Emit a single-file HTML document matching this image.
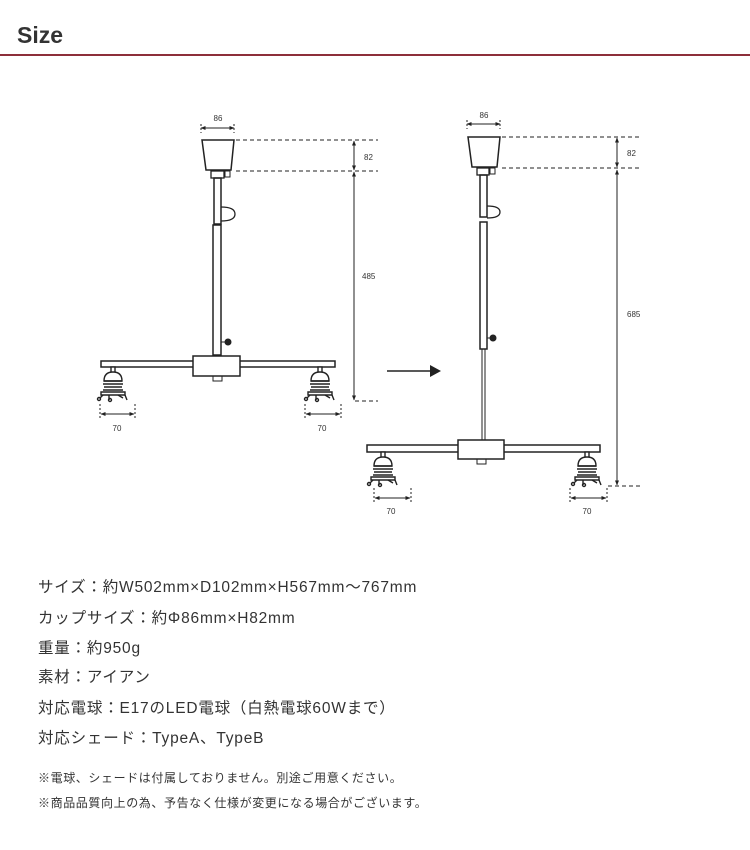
<!DOCTYPE html>
<html><head><meta charset="utf-8"><style>
body{margin:0;background:#fff;width:750px;height:850px;overflow:hidden;font-family:"Liberation Sans","Noto Sans CJK JP",sans-serif;color:#333}
.h{position:absolute;left:17px;top:22px;font-size:23px;font-weight:bold;color:#333}
.line{position:absolute;left:0;top:54px;width:750px;height:2px;background:#8d2f3a}
.t{position:absolute;left:38px;font-size:15.5px;color:#333;white-space:nowrap;letter-spacing:0.8px}
.n{position:absolute;left:38px;font-size:12px;color:#333;white-space:nowrap;letter-spacing:0.6px}
svg{position:absolute;left:0;top:0}
</style></head><body>
<div class="h">Size</div><div class="line"></div>
<svg width="750" height="560" viewBox="0 0 750 560" font-family="Liberation Sans, sans-serif" font-size="8" fill="none" stroke="#222">
<defs>
<marker id="a" viewBox="0 0 10 10" refX="9" refY="5" markerWidth="5" markerHeight="5" orient="auto-start-reverse"><path d="M0,1 L10,5 L0,9z" fill="#222" stroke="none"/></marker>
<g id="s" stroke-width="1.4">
<rect x="-2" y="0" width="4" height="6" fill="#fff"/>
<path d="M-9,14 Q-9,5 0,5 Q9,5 9,14z" fill="#fff"/>
<path d="M-9,14 H9 M-10,17 H10 M-9,20 H9 M-10,23 H10"/>
<path d="M-12,25 H12 V28 H-12z" fill="#fff"/>
<path d="M-10,28 L-13,31 M-4,28 V33 M5,28 L10,31 M12,28 L14,33"/>
<circle cx="-14" cy="32" r="1.5"/><circle cx="-3" cy="33" r="1.5"/>
</g>
</defs>
<!-- LEFT -->
<line x1="201" y1="128" x2="234" y2="128" marker-start="url(#a)" marker-end="url(#a)"/>
<line x1="201" y1="124" x2="201" y2="133" stroke-dasharray="2 2"/><line x1="234" y1="124" x2="234" y2="133" stroke-dasharray="2 2"/>
<text x="218" y="121" fill="#333" stroke="none" text-anchor="middle">86</text>
<path d="M202,140 H234 L231,170 H206z" stroke-width="1.5" fill="#fff"/>
<path d="M236,140 H378 M236,171 H378 M355,401 H378" stroke-dasharray="4 3"/>
<line x1="354" y1="141" x2="354" y2="170" marker-start="url(#a)" marker-end="url(#a)"/>
<line x1="354" y1="172" x2="354" y2="400" marker-start="url(#a)" marker-end="url(#a)"/>
<text x="364" y="160" fill="#333" stroke="none">82</text>
<text x="362" y="279" fill="#333" stroke="none">485</text>
<rect x="211" y="171" width="13" height="7" fill="#fff" stroke-width="1.3"/>
<rect x="225" y="171" width="5" height="6"/>
<rect x="214" y="178" width="7" height="46" stroke-width="1.5"/>
<path d="M221,207 Q235,207 235,214 Q235,221 221,221" stroke-width="1.3"/>
<rect x="213" y="225" width="8" height="130" stroke-width="1.5" fill="#fff"/>
<path d="M221,342 H226"/><circle cx="228" cy="342" r="3" fill="#222"/>
<rect x="101" y="361" width="234" height="6" stroke-width="1.5"/>
<rect x="193" y="356" width="47" height="20" fill="#fff" stroke-width="1.5"/>
<rect x="213" y="376" width="9" height="5"/>
<use href="#s" x="113" y="367"/><use href="#s" x="320" y="367"/>
<line x1="101" y1="414" x2="134" y2="414" marker-start="url(#a)" marker-end="url(#a)"/>
<line x1="306" y1="414" x2="340" y2="414" marker-start="url(#a)" marker-end="url(#a)"/>
<path d="M100,404 V420 M135,404 V420 M305,404 V420 M341,404 V420" stroke-dasharray="2 2"/>
<text x="117" y="431" fill="#333" stroke="none" text-anchor="middle">70</text>
<text x="322" y="431" fill="#333" stroke="none" text-anchor="middle">70</text>
<!-- arrow -->
<line x1="387" y1="371" x2="432" y2="371" stroke-width="1.5"/>
<path d="M430,365 L441,371 L430,377z" fill="#222" stroke="none"/>
<!-- RIGHT -->
<line x1="467" y1="124" x2="500" y2="124" marker-start="url(#a)" marker-end="url(#a)"/>
<line x1="467" y1="120" x2="467" y2="129" stroke-dasharray="2 2"/><line x1="500" y1="120" x2="500" y2="129" stroke-dasharray="2 2"/>
<text x="484" y="118" fill="#333" stroke="none" text-anchor="middle">86</text>
<path d="M468,137 H500 L497,167 H472z" stroke-width="1.5" fill="#fff"/>
<path d="M502,137 H640 M502,168 H640 M608,486 H640" stroke-dasharray="4 3"/>
<line x1="617" y1="138" x2="617" y2="167" marker-start="url(#a)" marker-end="url(#a)"/>
<line x1="617" y1="170" x2="617" y2="485" marker-start="url(#a)" marker-end="url(#a)"/>
<text x="627" y="156" fill="#333" stroke="none">82</text>
<text x="627" y="317" fill="#333" stroke="none">685</text>
<rect x="477" y="168" width="12" height="7" fill="#fff" stroke-width="1.3"/>
<rect x="490" y="168" width="5" height="6"/>
<rect x="480" y="175" width="7" height="42" stroke-width="1.5"/>
<path d="M487,206 Q500,206 500,212 Q500,218 487,218" stroke-width="1.3"/>
<rect x="480" y="222" width="7" height="127" stroke-width="1.5" fill="#fff"/>
<path d="M487,338 H491"/><circle cx="493" cy="338" r="3" fill="#222"/>
<rect x="482" y="349" width="3" height="91"/>
<rect x="367" y="445" width="233" height="7" stroke-width="1.5"/>
<rect x="458" y="440" width="46" height="19" fill="#fff" stroke-width="1.5"/>
<rect x="477" y="459" width="9" height="5"/>
<use href="#s" x="383" y="452"/><use href="#s" x="587" y="452"/>
<line x1="375" y1="498" x2="410" y2="498" marker-start="url(#a)" marker-end="url(#a)"/>
<line x1="571" y1="498" x2="606" y2="498" marker-start="url(#a)" marker-end="url(#a)"/>
<path d="M374,488 V504 M411,488 V504 M570,488 V504 M607,488 V504" stroke-dasharray="2 2"/>
<text x="391" y="514" fill="#333" stroke="none" text-anchor="middle">70</text>
<text x="587" y="514" fill="#333" stroke="none" text-anchor="middle">70</text>
</svg>
<div class="t" style="top:575px">サイズ：約W502mm×D102mm×H567mm～767mm</div>
<div class="t" style="top:606px">カップサイズ：約Φ86mm×H82mm</div>
<div class="t" style="top:636px">重量：約950g</div>
<div class="t" style="top:665px">素材：アイアン</div>
<div class="t" style="top:696px">対応電球：E17のLED電球（白熱電球60Wまで）</div>
<div class="t" style="top:726px">対応シェード：TypeA、TypeB</div>
<div class="n" style="top:769px">※電球、シェードは付属しておりません。別途ご用意ください。</div>
<div class="n" style="top:794px">※商品品質向上の為、予告なく仕様が変更になる場合がございます。</div>
</body></html>
